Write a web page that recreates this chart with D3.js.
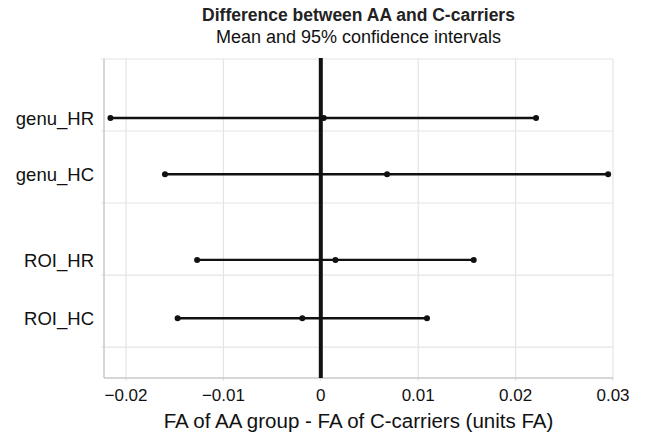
<!DOCTYPE html>
<html>
<head>
<meta charset="utf-8">
<script src="https://cdn.jsdelivr.net/npm/d3@7"></script>
<style>
  body { margin: 0; background: #fff; }
  svg text { font-family: "Liberation Sans", Arial, sans-serif; fill: #111; }
</style>
</head>
<body>
<div id="main"></div>
<script>
// Data
const labels = ['genu_HR', 'genu_HC', 'ROI_HR', 'ROI_HC'];
const rowPos = [3.18, 2.40, 1.21, 0.40];   // vertical position of each row on the y scale
const lower = [-0.0216, -0.0160, -0.0127, -0.0147];
const mean = [0.0003, 0.0068, 0.0015, -0.0019];
const upper = [0.0221, 0.0295, 0.0157, 0.0109];
const xTicks = [-0.02, -0.01, 0, 0.01, 0.02, 0.03];
const yGrid = [0, 1, 2, 3, 4];

const rows = labels.map((d, i) => ({ label: d, pos: rowPos[i], lo: lower[i], m: mean[i], hi: upper[i] }));

// Size of the SVG
const w = 646;
const h = 435;
const mLeft = 104, mRight = 613, mTop = 59, mBottom = 378;

const svg = d3.select('#main')
    .append('svg')
    .attr('width', w)
    .attr('height', h);

const xScale = d3.scaleLinear()
    .domain([-0.02226, 0.03])
    .range([mLeft, mRight]);

const yScale = d3.scaleLinear()
    .domain([-0.43, 4])
    .range([mBottom, mTop]);

// grid
svg.append('g').selectAll('line')
    .data(xTicks)
    .enter()
    .append('line')
    .attr('x1', (d) => xScale(d)).attr('x2', (d) => xScale(d))
    .attr('y1', mTop).attr('y2', mBottom + 3)
    .style('stroke', '#e4e4e4')
    .style('stroke-width', 1.2);

svg.append('g').selectAll('line')
    .data(yGrid)
    .enter()
    .append('line')
    .attr('x1', mLeft - 3).attr('x2', mRight)
    .attr('y1', (d) => yScale(d)).attr('y2', (d) => yScale(d))
    .style('stroke', '#e4e4e4')
    .style('stroke-width', 1.2);

// axis frame lines
svg.append('line')
    .attr('x1', mLeft).attr('x2', mLeft).attr('y1', mTop).attr('y2', mBottom)
    .style('stroke', '#c8c8c8').style('stroke-width', 1.5);
svg.append('line')
    .attr('x1', mLeft).attr('x2', mRight).attr('y1', mBottom).attr('y2', mBottom)
    .style('stroke', '#c8c8c8').style('stroke-width', 1.5);

// zero line
svg.append('line')
    .attr('x1', xScale(0)).attr('x2', xScale(0))
    .attr('y1', mTop - 1).attr('y2', mBottom)
    .style('stroke', '#111')
    .style('stroke-width', 4);

// intervals
svg.append('g').selectAll('line')
    .data(rows)
    .enter()
    .append('line')
    .attr('x1', (d) => xScale(d.lo)).attr('x2', (d) => xScale(d.hi))
    .attr('y1', (d) => yScale(d.pos)).attr('y2', (d) => yScale(d.pos))
    .style('stroke', '#111')
    .style('stroke-width', 2.4);

const pts = rows.flatMap((d) => [[d.lo, d.pos], [d.m, d.pos], [d.hi, d.pos]]);
svg.append('g').selectAll('circle')
    .data(pts)
    .enter()
    .append('circle')
    .attr('cx', (d) => xScale(d[0]))
    .attr('cy', (d) => yScale(d[1]))
    .attr('r', 3)
    .style('fill', '#111');

// row labels
svg.append('g').selectAll('text')
    .data(rows)
    .enter()
    .append('text')
    .attr('x', mLeft - 10)
    .attr('y', (d) => yScale(d.pos) + 7)
    .attr('text-anchor', 'end')
    .style('font-size', '18.5px')
    .text((d) => d.label);

// x tick labels
svg.append('g').selectAll('text')
    .data(xTicks)
    .enter()
    .append('text')
    .attr('x', (d) => xScale(d))
    .attr('y', 401)
    .attr('text-anchor', 'middle')
    .style('font-size', '17px')
    .text((d) => d === 0 ? '0' : d3.format('.2f')(d));

// titles
const cx = (mLeft + mRight) / 2;
svg.append('text').attr('x', cx).attr('y', 21).attr('text-anchor', 'middle')
    .style('font-size', '17.5px').style('font-weight', 'bold').style('fill', '#222')
    .text('Difference between AA and C-carriers');
svg.append('text').attr('x', cx).attr('y', 43).attr('text-anchor', 'middle')
    .style('font-size', '18px').text('Mean and 95% confidence intervals');
svg.append('text').attr('x', cx).attr('y', 428).attr('text-anchor', 'middle')
    .style('font-size', '20.5px').text('FA of AA group - FA of C-carriers (units FA)');
</script>
</body>
</html>
